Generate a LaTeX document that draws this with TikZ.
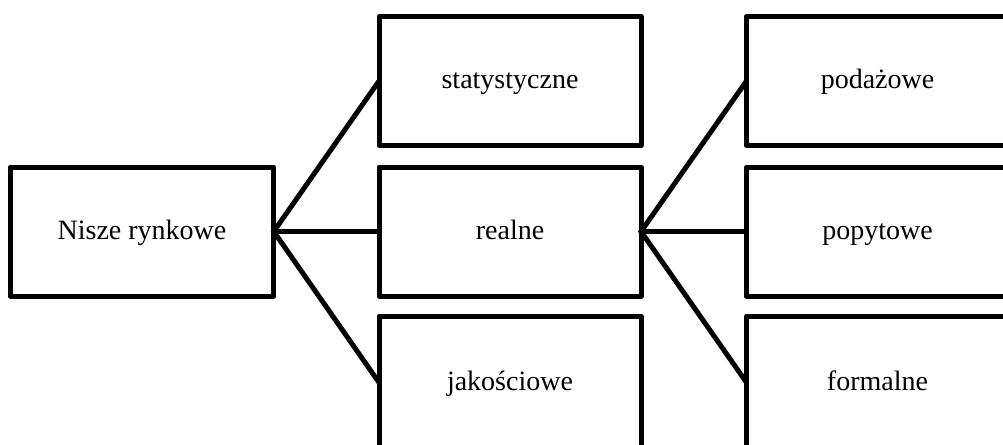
\documentclass[tikz,border=0pt]{standalone}
\usepackage{fontspec}
\setmainfont{Liberation Serif}
\begin{document}
\begin{tikzpicture}[x=1pt,y=-1pt,
  box/.style={draw, line width=5pt, line join=round, rectangle, outer sep=0pt,
    inner sep=0pt, minimum width=#1, minimum height=129pt,
    text height=20pt, text depth=5pt,
    font=\fontsize{28}{32}\selectfont},
  box/.default=262pt,
  link/.style={line width=5pt}]
\useasboundingbox (0,0) rectangle (1003,444);
\clip (0,0) rectangle (1003,444);
% root
\node[box=263.5pt] (root) at (142,231.5) {Nisze rynkowe};
% second level
\node[box] (stat) at (510,81) {statystyczne};
\node[box] (real) at (510,231.5) {realne};
\node[box, minimum height=133pt] (jak) at (510,382.5) {jakościowe};
% third level
\node[box] (pod) at (877.5,81) {podażowe};
\node[box] (pop) at (877.5,231.5) {popytowe};
\node[box, minimum height=133pt] (form) at (877.5,382.5) {formalne};
% connectors
\draw[link] (stat.west) -- (root.east) -- (jak.west);
\draw[link] (root.east) -- (real.west);
\draw[link] (pod.west) -- (real.east) -- (form.west);
\draw[link] (real.east) -- (pop.west);
\end{tikzpicture}
\end{document}
